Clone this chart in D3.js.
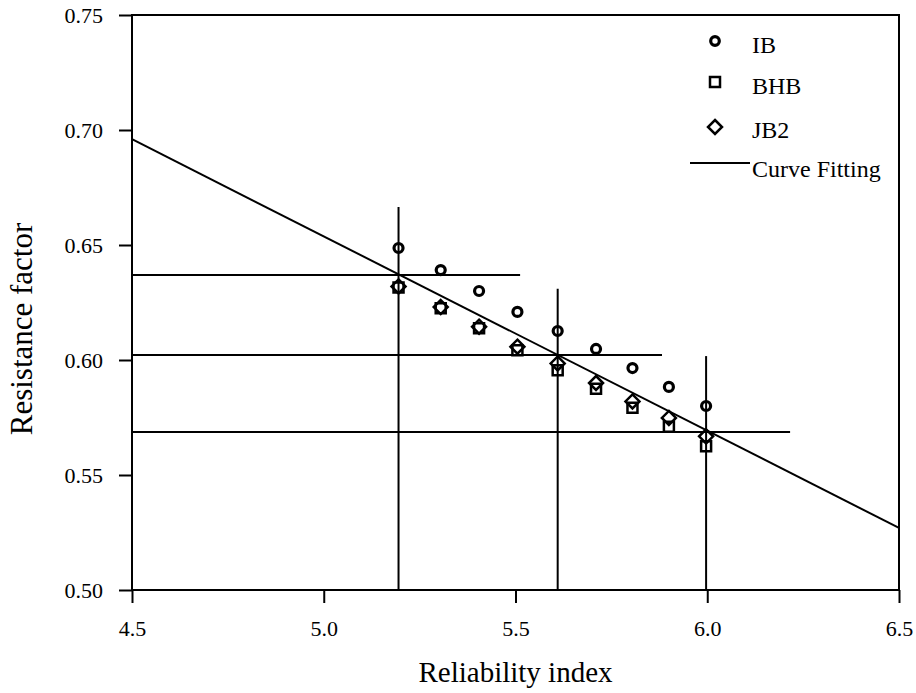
<!DOCTYPE html>
<html><head><meta charset="utf-8">
<script src="https://cdn.jsdelivr.net/npm/d3@7"></script>
<style>body{margin:0;background:#fff}svg{display:block}text{font-family:"Liberation Serif","Times New Roman",serif;fill:#000}</style>
</head><body><svg id="c" width="916" height="693"></svg>
<script>
const xValues = [5.195, 5.305, 5.405, 5.505, 5.61, 5.71, 5.805, 5.90, 5.997];
const ibValues = [0.6487, 0.6391, 0.6300, 0.6209, 0.6126, 0.6048, 0.5965, 0.5883, 0.5800];
const bhbValues = [0.6315, 0.6225, 0.6138, 0.6042, 0.5955, 0.5875, 0.5792, 0.5710, 0.5625];
const jb2Values = [0.6320, 0.6230, 0.6145, 0.6058, 0.5985, 0.5900, 0.5820, 0.5748, 0.5668];
const curveX = [4.5, 6.5];
const curveY = [0.696, 0.527];
// reference guide lines: [x1, y1, x2, y2]
const hLines = [[4.5, 0.637, 5.512, 0.637], [4.5, 0.6022, 5.882, 0.6022], [4.5, 0.5687, 6.216, 0.5687]];
const vLines = [[5.195, 0.50, 5.195, 0.6665], [5.61, 0.50, 5.61, 0.631], [5.997, 0.50, 5.997, 0.6017]];
const xTicks = [4.5, 5.0, 5.5, 6.0, 6.5];
const yTicks = [0.50, 0.55, 0.60, 0.65, 0.70, 0.75];
const legendLabels = ["IB", "BHB", "JB2", "Curve Fitting"];

const svg = d3.select("#c");
const L = 132, R = 899, T = 15, B = 590;
const x = d3.scaleLinear().domain([4.5, 6.5]).range([L, R]);
const y = d3.scaleLinear().domain([0.50, 0.75]).range([B, T]);

// frame
svg.append("rect").attr("x", L).attr("y", T).attr("width", R - L).attr("height", B - T)
  .attr("fill", "none").attr("stroke", "#000").attr("stroke-width", 2);

const xAxis = svg.append("g").attr("transform", `translate(0,${B})`)
  .call(d3.axisBottom(x).tickValues(xTicks).tickFormat(d3.format(".1f")).tickSize(13).tickPadding(17));
const yAxis = svg.append("g").attr("transform", `translate(${L},0)`)
  .call(d3.axisLeft(y).tickValues(yTicks).tickFormat(d3.format(".2f")).tickSize(13).tickPadding(16));
[xAxis, yAxis].forEach(a => {
  a.attr("font-family", null).attr("font-size", null);
  a.select(".domain").remove();
  a.selectAll("line").attr("stroke", "#000").attr("stroke-width", 2);
  a.selectAll("text").attr("font-size", 22).attr("fill", "#000");
});

svg.append("text").attr("x", (L + R) / 2).attr("y", 682).attr("text-anchor", "middle")
  .attr("font-size", 29).text("Reliability index");
svg.append("text").attr("transform", "translate(32,329) rotate(-90)").attr("text-anchor", "middle")
  .attr("font-size", 31).text("Resistance factor");

// guide lines
const g = svg.append("g").attr("stroke", "#000").attr("stroke-width", 2);
hLines.concat(vLines).forEach(d => g.append("line").attr("x1", x(d[0])).attr("y1", y(d[1])).attr("x2", x(d[2])).attr("y2", y(d[3])));
// curve fitting
g.append("line").attr("x1", x(curveX[0])).attr("y1", y(curveY[0])).attr("x2", x(curveX[1])).attr("y2", y(curveY[1]));

function sq(sel) { return sel.attr("d", "M-5,-5H5V5H-5Z M-6,-5H6 M-6,5H6"); }
function dia(sel) { return sel.attr("d", "M0,-7L7,0L0,7L-7,0Z"); }

const m = svg.append("g").attr("fill", "none").attr("stroke", "#000").attr("stroke-width", 2.5);
xValues.forEach((xv, i) => {
  sq(m.append("path").attr("transform", `translate(${x(xv)},${y(bhbValues[i])})`));
  dia(m.append("path").attr("transform", `translate(${x(xv)},${y(jb2Values[i])})`));
  m.append("circle").attr("cx", x(xv)).attr("cy", y(ibValues[i])).attr("r", 4.5).attr("stroke-width", 3.2);
});

// legend
const lg = svg.append("g");
const lx = 715;
lg.append("circle").attr("cx", lx).attr("cy", 41).attr("r", 4.3).attr("fill", "none").attr("stroke", "#000").attr("stroke-width", 3.2);
sq(lg.append("path").attr("transform", `translate(${lx},82)`)).attr("fill", "none").attr("stroke", "#000").attr("stroke-width", 2.5);
dia(lg.append("path").attr("transform", `translate(${lx},127)`)).attr("fill", "none").attr("stroke", "#000").attr("stroke-width", 2.5);
lg.append("line").attr("x1", 690).attr("x2", 750).attr("y1", 163).attr("y2", 163).attr("stroke", "#000").attr("stroke-width", 2);
const ly = [53, 94, 138, 177];
legendLabels.forEach((t, i) => lg.append("text").attr("x", 752).attr("y", ly[i]).attr("font-size", 24).text(t));
</script></body></html>
